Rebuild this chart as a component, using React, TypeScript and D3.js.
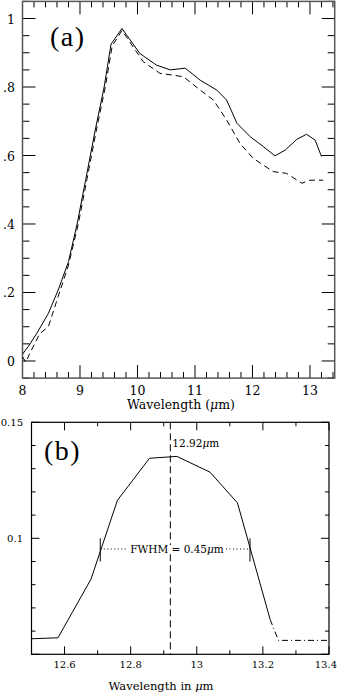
import React from 'react'
import * as d3 from 'd3'

// Panel (a): spectra
const waveSolid = [8.0, 8.1, 8.25, 8.45, 8.62, 8.8, 8.95, 9.1, 9.26, 9.42, 9.54, 9.73, 10.04, 10.33, 10.57, 10.83, 11.09, 11.38, 11.55, 11.73, 11.96, 12.19, 12.39, 12.57, 12.77, 12.94, 13.09, 13.2]
const fluxSolid = [0.02, 0.042, 0.081, 0.139, 0.207, 0.29, 0.4, 0.53, 0.67, 0.8, 0.925, 0.971, 0.898, 0.864, 0.85, 0.855, 0.82, 0.791, 0.762, 0.694, 0.655, 0.626, 0.599, 0.616, 0.647, 0.662, 0.645, 0.597]
const waveDashed = [8.0, 8.06, 8.12, 8.3, 8.45, 8.62, 8.8, 8.97, 9.12, 9.28, 9.44, 9.56, 9.73, 10.1, 10.39, 10.8, 11.09, 11.32, 11.55, 11.78, 12.01, 12.36, 12.59, 12.86, 13.0, 13.23]
const fluxDashed = [0.012, -0.004, 0.02, 0.08, 0.1, 0.188, 0.28, 0.4, 0.53, 0.67, 0.8, 0.92, 0.965, 0.874, 0.84, 0.83, 0.791, 0.762, 0.704, 0.636, 0.592, 0.553, 0.548, 0.519, 0.528, 0.528]
const yLabelsA = ['0', '.2', '.4', '.6', '.8', '1']

// Panel (b): line profile
const waveProfile = [12.5, 12.58, 12.68, 12.76, 12.857, 12.94, 13.04, 13.123, 13.222]
const fluxProfile = [0.0567, 0.0571, 0.0824, 0.1164, 0.1345, 0.1353, 0.1285, 0.1153, 0.065]
const waveTail = [13.222, 13.247, 13.398]
const fluxTail = [0.065, 0.056, 0.056]
const lineCenter = 12.92
const fwhmEdges = [12.708, 13.161]
const fwhmLevel = 0.0954
const xLabelsB = ['12.6', '12.8', '13', '13.2', '13.4']

const font = '"DejaVu Serif", serif'

function PanelA() {
  const x = d3.scaleLinear().domain([8, 13.43]).range([22.5, 334.7])
  const y = d3.scaleLinear().domain([-0.05, 1.05]).range([378.1, 1.4])
  const line = d3.line<[number, number]>().x(d => x(d[0])).y(d => y(d[1]))
  const solid = waveSolid.map((w, i) => [w, fluxSolid[i]] as [number, number])
  const dashed = waveDashed.map((w, i) => [w, fluxDashed[i]] as [number, number])
  const [x0, x1] = x.range()
  const [y0, y1] = y.range()
  const xMinor = d3.range(8, 13.42, 0.2)
  const xMajor = d3.range(8, 14, 1)
  const yMinor = d3.range(-0.05, 1.051, 0.05)
  const yMajor = d3.range(0, 1.01, 0.2)
  const isMajorX = (v: number) => Math.abs(v - Math.round(v)) < 1e-6
  const isMajorY = (v: number) => Math.abs(v * 5 - Math.round(v * 5)) < 1e-6
  return (
    <g>
      <g stroke="#000" strokeWidth={1}>
        {xMinor.map((v, i) => {
          const L = isMajorX(v) ? 13 : 6
          return (
            <g key={'xm' + i}>
              <line x1={x(v)} x2={x(v)} y1={y0} y2={y0 - L} />
              <line x1={x(v)} x2={x(v)} y1={y1} y2={y1 + L} />
            </g>
          )
        })}
        {yMinor.map((v, i) => {
          const L = isMajorY(v) ? 13 : 7
          return (
            <g key={'ym' + i}>
              <line x1={x0} x2={x0 + L} y1={y(v)} y2={y(v)} />
              <line x1={x1} x2={x1 - L} y1={y(v)} y2={y(v)} />
            </g>
          )
        })}
      </g>
      <rect x={x0} y={y1} width={x1 - x0} height={y0 - y1} fill="none" stroke="#555" strokeWidth={1.5} />
      <g fontFamily={font} fontSize={12.5} fill="#000">
        {xMajor.map(v => (
          <text key={'xl' + v} x={x(v)} y={395} textAnchor="middle">{v}</text>
        ))}
        {yMajor.map((v, i) => (
          <text key={'yl' + i} x={15} y={y(v) + 5} textAnchor="end">{yLabelsA[i]}</text>
        ))}
        <text x={181} y={409} textAnchor="middle">Wavelength (<tspan fontStyle="italic">μ</tspan>m)</text>
      </g>
      <text x={50} y={46} fontFamily='"Liberation Serif", serif' fontSize={28} letterSpacing={1.5}>(a)</text>
      <path d={line(solid) || ''} fill="none" stroke="#000" strokeWidth={1} />
      <path d={line(dashed) || ''} fill="none" stroke="#000" strokeWidth={1} strokeDasharray="6,4" />
    </g>
  )
}

function PanelB() {
  const x = d3.scaleLinear().domain([12.5, 13.4]).range([31.5, 329])
  const y = d3.scaleLinear().domain([0.05, 0.15]).range([654.3, 422.3])
  const line = d3.line<[number, number]>().x(d => x(d[0])).y(d => y(d[1]))
  const prof = waveProfile.map((w, i) => [w, fluxProfile[i]] as [number, number])
  const tail = waveTail.map((w, i) => [w, fluxTail[i]] as [number, number])
  const [x0, x1] = x.range()
  const [y0, y1] = y.range()
  const xTicks = d3.range(12.5, 13.41, 0.1)
  const yTicks = d3.range(0.05, 0.1501, 0.01)
  const xLab = d3.range(12.6, 13.41, 0.2)
  const majX = (v: number) => Math.abs(v * 5 - Math.round(v * 5)) < 1e-6
  const majY = (v: number) => Math.abs(v * 20 - Math.round(v * 20)) < 1e-6
  return (
    <g>
      <g stroke="#000" strokeWidth={1}>
        {xTicks.map((v, i) => {
          const L = majX(v) ? 8 : 4
          return (
            <g key={'bx' + i}>
              <line x1={x(v)} x2={x(v)} y1={y0} y2={y0 - L} />
              <line x1={x(v)} x2={x(v)} y1={y1} y2={y1 + L} />
            </g>
          )
        })}
        {yTicks.map((v, i) => {
          const L = majY(v) ? 8 : 4
          return (
            <g key={'by' + i}>
              <line x1={x0} x2={x0 + L} y1={y(v)} y2={y(v)} />
              <line x1={x1} x2={x1 - L} y1={y(v)} y2={y(v)} />
            </g>
          )
        })}
      </g>
      <rect x={x0} y={y1} width={x1 - x0} height={y0 - y1} fill="none" stroke="#000" strokeWidth={1.2} />
      <g fontFamily={font} fontSize={10} fill="#000">
        {xLab.map((v, i) => (
          <text key={'bl' + i} x={i === xLab.length - 1 ? 337 : x(v)} y={668} textAnchor={i === xLab.length - 1 ? 'end' : 'middle'}>{xLabelsB[i]}</text>
        ))}
        <text x={23} y={y(0.15) + 4} textAnchor="end">0.15</text>
        <text x={23} y={y(0.1) + 4} textAnchor="end">0.1</text>
      </g>
      <text x={161} y={690} textAnchor="middle" fontFamily={font} fontSize={11.5}>
        Wavelength in <tspan fontStyle="italic">μ</tspan>m
      </text>
      <text x={44} y={460} fontFamily='"Liberation Serif", serif' fontSize={28} letterSpacing={1.5}>(b)</text>
      <path d={line(prof) || ''} fill="none" stroke="#000" strokeWidth={1} />
      <path d={line(tail) || ''} fill="none" stroke="#000" strokeWidth={1} strokeDasharray="6,3,1,3" />
      <line x1={x(lineCenter)} x2={x(lineCenter)} y1={y1} y2={y0} stroke="#000" strokeWidth={1} strokeDasharray="7,4" />
      <text x={x(lineCenter) + 2} y={447} fontFamily={font} fontSize={10.5}>
        12.92<tspan fontStyle="italic">μ</tspan>m
      </text>
      {fwhmEdges.map((w, i) => (
        <line key={'fe' + i} x1={x(w)} x2={x(w)} y1={y(0.1)} y2={y(0.09)} stroke="#000" strokeWidth={1} />
      ))}
      <line x1={x(fwhmEdges[0])} x2={x(fwhmEdges[0]) + 28} y1={y(fwhmLevel)} y2={y(fwhmLevel)} stroke="#000" strokeDasharray="1,2.5" />
      <line x1={x(fwhmEdges[1]) - 24} x2={x(fwhmEdges[1])} y1={y(fwhmLevel)} y2={y(fwhmLevel)} stroke="#000" strokeDasharray="1,2.5" />
      <rect x={167} y={y(fwhmLevel) - 4} width={6} height={8} fill="#fff" />
      <text x={177} y={y(fwhmLevel) + 4} textAnchor="middle" fontFamily={font} fontSize={10.5}>
        FWHM = 0.45<tspan fontStyle="italic">μ</tspan>m
      </text>
    </g>
  )
}

export default function App() {
  return (
    <div style={{ position: 'absolute', left: 0, top: 0 }}>
      <svg width={340} height={694} style={{ display: 'block', background: '#fff' }}>
        <PanelA />
        <PanelB />
      </svg>
    </div>
  )
}
